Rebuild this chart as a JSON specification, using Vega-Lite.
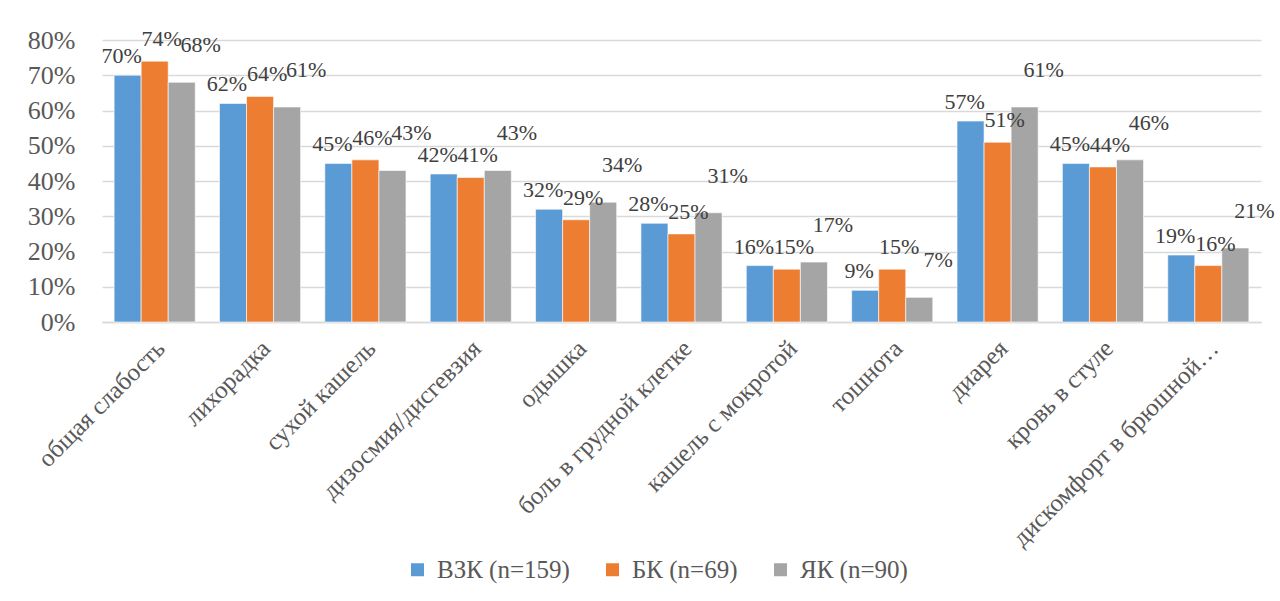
{
  "$schema": "https://vega.github.io/schema/vega-lite/v6.json",
  "autosize": {"type": "none"},
  "width": 1159,
  "height": 282,
  "padding": {"left": 102, "top": 40, "right": 19, "bottom": 279},
  "background": "white",
  "config": {
    "font": "Liberation Serif",
    "view": {"stroke": null}
  },
  "data": {
    "values": [
      {"symptom": "общая слабость", "group": "ВЗК (n=159)", "value": 0.70},
      {"symptom": "общая слабость", "group": "БК (n=69)", "value": 0.74},
      {"symptom": "общая слабость", "group": "ЯК (n=90)", "value": 0.68},
      {"symptom": "лихорадка", "group": "ВЗК (n=159)", "value": 0.62},
      {"symptom": "лихорадка", "group": "БК (n=69)", "value": 0.64},
      {"symptom": "лихорадка", "group": "ЯК (n=90)", "value": 0.61},
      {"symptom": "сухой кашель", "group": "ВЗК (n=159)", "value": 0.45},
      {"symptom": "сухой кашель", "group": "БК (n=69)", "value": 0.46},
      {"symptom": "сухой кашель", "group": "ЯК (n=90)", "value": 0.43},
      {"symptom": "дизосмия/дисгевзия", "group": "ВЗК (n=159)", "value": 0.42},
      {"symptom": "дизосмия/дисгевзия", "group": "БК (n=69)", "value": 0.41},
      {"symptom": "дизосмия/дисгевзия", "group": "ЯК (n=90)", "value": 0.43},
      {"symptom": "одышка", "group": "ВЗК (n=159)", "value": 0.32},
      {"symptom": "одышка", "group": "БК (n=69)", "value": 0.29},
      {"symptom": "одышка", "group": "ЯК (n=90)", "value": 0.34},
      {"symptom": "боль в грудной клетке", "group": "ВЗК (n=159)", "value": 0.28},
      {"symptom": "боль в грудной клетке", "group": "БК (n=69)", "value": 0.25},
      {"symptom": "боль в грудной клетке", "group": "ЯК (n=90)", "value": 0.31},
      {"symptom": "кашель с мокротой", "group": "ВЗК (n=159)", "value": 0.16},
      {"symptom": "кашель с мокротой", "group": "БК (n=69)", "value": 0.15},
      {"symptom": "кашель с мокротой", "group": "ЯК (n=90)", "value": 0.17},
      {"symptom": "тошнота", "group": "ВЗК (n=159)", "value": 0.09},
      {"symptom": "тошнота", "group": "БК (n=69)", "value": 0.15},
      {"symptom": "тошнота", "group": "ЯК (n=90)", "value": 0.07},
      {"symptom": "диарея", "group": "ВЗК (n=159)", "value": 0.57},
      {"symptom": "диарея", "group": "БК (n=69)", "value": 0.51},
      {"symptom": "диарея", "group": "ЯК (n=90)", "value": 0.61},
      {"symptom": "кровь в стуле", "group": "ВЗК (n=159)", "value": 0.45},
      {"symptom": "кровь в стуле", "group": "БК (n=69)", "value": 0.44},
      {"symptom": "кровь в стуле", "group": "ЯК (n=90)", "value": 0.46},
      {"symptom": "дискомфорт в брюшной…", "group": "ВЗК (n=159)", "value": 0.19},
      {"symptom": "дискомфорт в брюшной…", "group": "БК (n=69)", "value": 0.16},
      {"symptom": "дискомфорт в брюшной…", "group": "ЯК (n=90)", "value": 0.21}
    ]
  },
  "encoding": {
    "x": {
      "field": "symptom",
      "type": "nominal",
      "sort": null,
      "scale": {"paddingInner": 0.23, "paddingOuter": 0.115},
      "axis": {
        "title": null,
        "labelAngle": -45,
        "labelAlign": "right",
        "labelBaseline": "middle",
        "labelFontSize": 25,
        "labelColor": "#595959",
        "labelPadding": 22,
        "labelOffset": 6,
        "labelLimit": 400,
        "ticks": false,
        "domain": true,
        "domainColor": "#d9d9d9",
        "domainWidth": 1.5,
        "grid": false
      }
    },
    "xOffset": {
      "field": "group",
      "type": "nominal",
      "sort": ["ВЗК (n=159)", "БК (n=69)", "ЯК (n=90)"],
      "scale": {"paddingInner": 0, "paddingOuter": 0}
    },
    "y": {
      "field": "value",
      "type": "quantitative",
      "scale": {"domain": [0, 0.8], "nice": false},
      "axis": {
        "title": null,
        "format": ".0%",
        "values": [0, 0.1, 0.2, 0.3, 0.4, 0.5, 0.6, 0.7, 0.8],
        "labelFontSize": 26,
        "labelColor": "#595959",
        "labelPadding": 27,
        "ticks": false,
        "domain": false,
        "grid": true,
        "gridColor": "#d9d9d9",
        "gridWidth": 1.5
      }
    }
  },
  "layer": [
    {
      "mark": {"type": "bar", "stroke": "white", "strokeWidth": 0.6},
      "encoding": {
        "color": {
          "field": "group",
          "type": "nominal",
          "sort": ["ВЗК (n=159)", "БК (n=69)", "ЯК (n=90)"],
          "scale": {"range": ["#5B9BD5", "#ED7D31", "#A5A5A5"]},
          "legend": {
            "title": null,
            "orient": "none",
            "direction": "horizontal",
            "legendX": 303,
            "legendY": 517,
            "padding": 0,
            "symbolType": "square",
            "symbolSize": 169,
            "symbolStrokeWidth": 0,
            "labelFontSize": 25,
            "labelColor": "#595959",
            "labelOffset": 7,
            "columnPadding": 30,
            "labelLimit": 300
          }
        }
      }
    },
    {
      "transform": [{"filter": "datum.group === 'ВЗК (n=159)'"}],
      "mark": {"type": "text", "baseline": "alphabetic", "dy": -12, "dx": -6, "fontSize": 22, "color": "#404040"},
      "encoding": {"text": {"field": "value", "type": "quantitative", "format": ".0%"}}
    },
    {
      "transform": [{"filter": "datum.group === 'БК (n=69)'"}],
      "mark": {"type": "text", "baseline": "alphabetic", "dy": -15, "dx": 7, "fontSize": 22, "color": "#404040"},
      "encoding": {"text": {"field": "value", "type": "quantitative", "format": ".0%"}}
    },
    {
      "transform": [{"filter": "datum.group === 'ЯК (n=90)'"}],
      "mark": {"type": "text", "baseline": "alphabetic", "dy": -30, "dx": 19, "fontSize": 22, "color": "#404040"},
      "encoding": {"text": {"field": "value", "type": "quantitative", "format": ".0%"}}
    }
  ]
}
